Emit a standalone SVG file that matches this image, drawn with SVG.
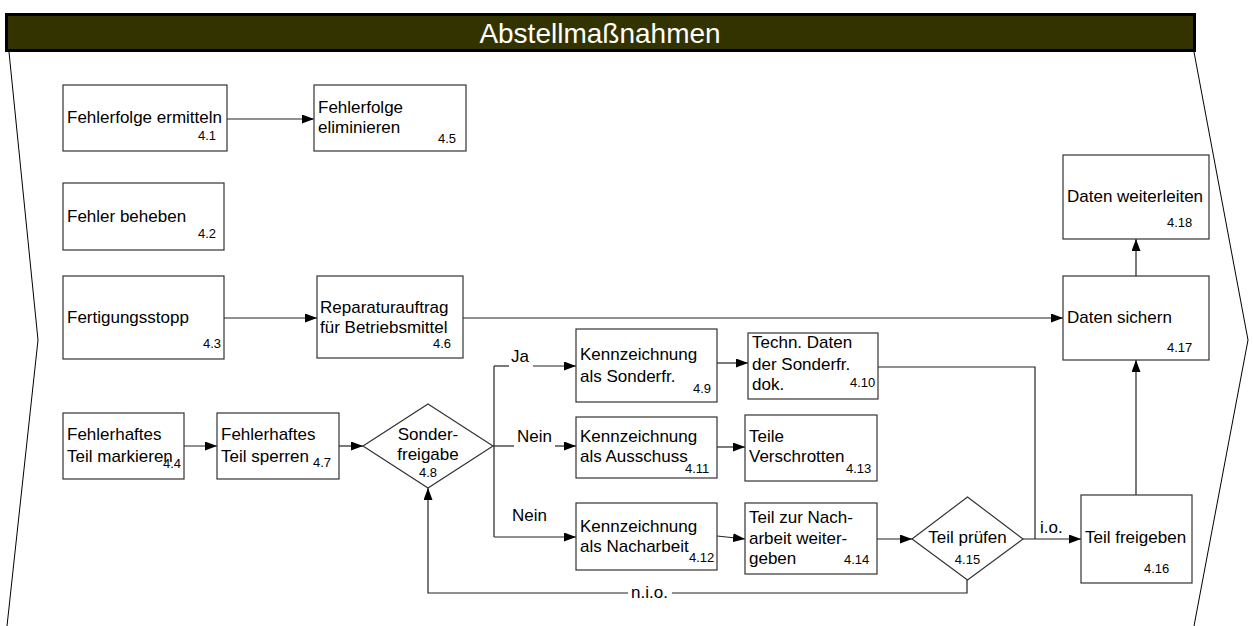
<svg xmlns="http://www.w3.org/2000/svg" width="1253" height="626" viewBox="0 0 1253 626">
  <defs>
    <marker id="arrow" markerUnits="userSpaceOnUse" markerWidth="12" markerHeight="9" refX="12" refY="4.5" orient="auto">
      <path d="M0,0 L12,4.5 L0,9 Z" fill="#000"/>
    </marker>
    <style>
      .box { fill: #fff; stroke: #333; stroke-width: 1.2; }
      .line { fill: none; stroke: #222; stroke-width: 1.2; }
      .arr { fill: none; stroke: #222; stroke-width: 1.2; marker-end: url(#arrow); }
      .t { font-family: "Liberation Sans", Arial, sans-serif; font-size: 17px; fill: #000; }
      .n { font-family: "Liberation Sans", Arial, sans-serif; font-size: 13px; fill: #000; }
      .lane { fill: none; stroke: #000; stroke-width: 1; }
    </style>
  </defs>

  <rect width="1253" height="626" fill="#fff"/>

  <!-- lane outline with chevron sides -->
  <g id="lane">
    <path class="lane" d="M9,52 L38,340 L7,626"/>
    <path class="lane" d="M1194,52 L1248,340 L1194,626"/>
  </g>

  <!-- lane title bar -->
  <g id="header">
    <rect x="6.5" y="14.5" width="1188" height="36" fill="#333300" stroke="#000" stroke-width="3"/>
    <text x="600" y="43" text-anchor="middle" font-family="'Liberation Sans', Arial, sans-serif" font-size="28" fill="#fff">Abstellmaßnahmen</text>
  </g>

  <!-- connectors -->
  <g id="connectors">
    <path class="arr" d="M227,119 L314,119"/>
    <path class="arr" d="M224,318 L317,318"/>
    <path class="arr" d="M463,318 L1063,318"/>
    <path class="arr" d="M184,446 L217,446"/>
    <path class="arr" d="M339,446 L363,446"/>
    <!-- decision branches -->
    <path class="line" d="M493,446 L494,446 M494,366 L494,537"/>
    <path class="line" d="M494,366 L509,366"/>
    <path class="arr" d="M533,366 L576,366"/>
    <path class="line" d="M494,446 L514,446"/>
    <path class="arr" d="M555,446 L576,446"/>
    <path class="arr" d="M494,537 L576,537"/>
    <path class="arr" d="M717,363 L748,363"/>
    <path class="arr" d="M717,447 L745,447"/>
    <path class="arr" d="M717,536 L745,539"/>
    <path class="arr" d="M877,539 L912,539"/>
    <!-- check result -->
    <path class="line" d="M878,367 L1035,367 L1035,539"/>
    <path class="arr" d="M1023,539 L1081,539"/>
    <path class="line" d="M967,580 L967,593 L672,593"/>
    <path class="arr" d="M628,593 L428,593 L428,488"/>
    <path class="arr" d="M1136,495 L1136,360"/>
    <path class="arr" d="M1136,276 L1136,239"/>
    <!-- edge labels -->
    <text class="t" x="511" y="362">Ja</text>
    <text class="t" x="517" y="442">Nein</text>
    <text class="t" x="512" y="521">Nein</text>
    <text class="t" x="631" y="598">n.i.o.</text>
    <text class="t" x="1040" y="533">i.o.</text>
  </g>

  <g id="n4_1">
    <rect class="box" x="63" y="85" width="164" height="66"/>
    <text class="t" x="67" y="123">Fehlerfolge ermitteln</text>
    <text class="n" x="198" y="140">4.1</text>
  </g>

  <g id="n4_2">
    <rect class="box" x="63" y="183" width="161" height="67"/>
    <text class="t" x="67" y="222">Fehler beheben</text>
    <text class="n" x="198" y="238">4.2</text>
  </g>

  <g id="n4_3">
    <rect class="box" x="63" y="276" width="161" height="83"/>
    <text class="t" x="67" y="323">Fertigungsstopp</text>
    <text class="n" x="203" y="348">4.3</text>
  </g>

  <g id="n4_4">
    <rect class="box" x="63" y="413" width="121" height="66"/>
    <text class="t" x="67" y="440">Fehlerhaftes</text>
    <text class="t" x="67" y="462">Teil markieren</text>
    <text class="n" x="163" y="468">4.4</text>
  </g>

  <g id="n4_5">
    <rect class="box" x="314" y="85" width="152" height="66"/>
    <text class="t" x="318" y="113">Fehlerfolge</text>
    <text class="t" x="318" y="133">eliminieren</text>
    <text class="n" x="438" y="143">4.5</text>
  </g>

  <g id="n4_6">
    <rect class="box" x="317" y="276" width="146" height="82"/>
    <text class="t" x="320" y="313">Reparaturauftrag</text>
    <text class="t" x="320" y="333">für Betriebsmittel</text>
    <text class="n" x="433" y="348">4.6</text>
  </g>

  <g id="n4_7">
    <rect class="box" x="217" y="413" width="122" height="66"/>
    <text class="t" x="221" y="440">Fehlerhaftes</text>
    <text class="t" x="221" y="462">Teil sperren</text>
    <text class="n" x="313" y="467">4.7</text>
  </g>

  <g id="n4_8">
    <polygon class="box" points="428,404 493,446 428,488 363,446"/>
    <text class="t" x="428" y="440" text-anchor="middle">Sonder-</text>
    <text class="t" x="428" y="460" text-anchor="middle">freigabe</text>
    <text class="n" x="428" y="477" text-anchor="middle">4.8</text>
  </g>

  <g id="n4_9">
    <rect class="box" x="576" y="329" width="141" height="73"/>
    <text class="t" x="580" y="360">Kennzeichnung</text>
    <text class="t" x="580" y="382">als Sonderfr.</text>
    <text class="n" x="693" y="393">4.9</text>
  </g>

  <g id="n4_10">
    <rect class="box" x="748" y="333" width="130" height="66"/>
    <text class="t" x="752" y="348">Techn. Daten</text>
    <text class="t" x="752" y="370">der Sonderfr.</text>
    <text class="t" x="752" y="390">dok.</text>
    <text class="n" x="850" y="387" font-size="11.5">4.10</text>
  </g>

  <g id="n4_11">
    <rect class="box" x="576" y="417" width="141" height="61"/>
    <text class="t" x="580" y="442">Kennzeichnung</text>
    <text class="t" x="580" y="462">als Ausschuss</text>
    <text class="n" x="685" y="473">4.11</text>
  </g>

  <g id="n4_12">
    <rect class="box" x="576" y="503" width="141" height="67"/>
    <text class="t" x="580" y="532">Kennzeichnung</text>
    <text class="t" x="580" y="552">als Nacharbeit</text>
    <text class="n" x="689" y="562">4.12</text>
  </g>

  <g id="n4_13">
    <rect class="box" x="745" y="415" width="132" height="66"/>
    <text class="t" x="749" y="442">Teile</text>
    <text class="t" x="749" y="462">Verschrotten</text>
    <text class="n" x="846" y="473">4.13</text>
  </g>

  <g id="n4_14">
    <rect class="box" x="745" y="503" width="132" height="71"/>
    <text class="t" x="749" y="523">Teil zur Nach-</text>
    <text class="t" x="749" y="544">arbeit weiter-</text>
    <text class="t" x="749" y="564">geben</text>
    <text class="n" x="844" y="564">4.14</text>
  </g>

  <g id="n4_15">
    <polygon class="box" points="967.5,497 1023,539 967.5,580 912,539"/>
    <text class="t" x="967.5" y="543" text-anchor="middle">Teil prüfen</text>
    <text class="n" x="967.5" y="564" text-anchor="middle">4.15</text>
  </g>

  <g id="n4_16">
    <rect class="box" x="1081" y="495" width="111" height="88"/>
    <text class="t" x="1085" y="543">Teil freigeben</text>
    <text class="n" x="1144" y="573">4.16</text>
  </g>

  <g id="n4_17">
    <rect class="box" x="1063" y="276" width="146" height="84"/>
    <text class="t" x="1067" y="323">Daten sichern</text>
    <text class="n" x="1167" y="352">4.17</text>
  </g>

  <g id="n4_18">
    <rect class="box" x="1063" y="155" width="146" height="84"/>
    <text class="t" x="1067" y="202">Daten weiterleiten</text>
    <text class="n" x="1167" y="227">4.18</text>
  </g>
</svg>
